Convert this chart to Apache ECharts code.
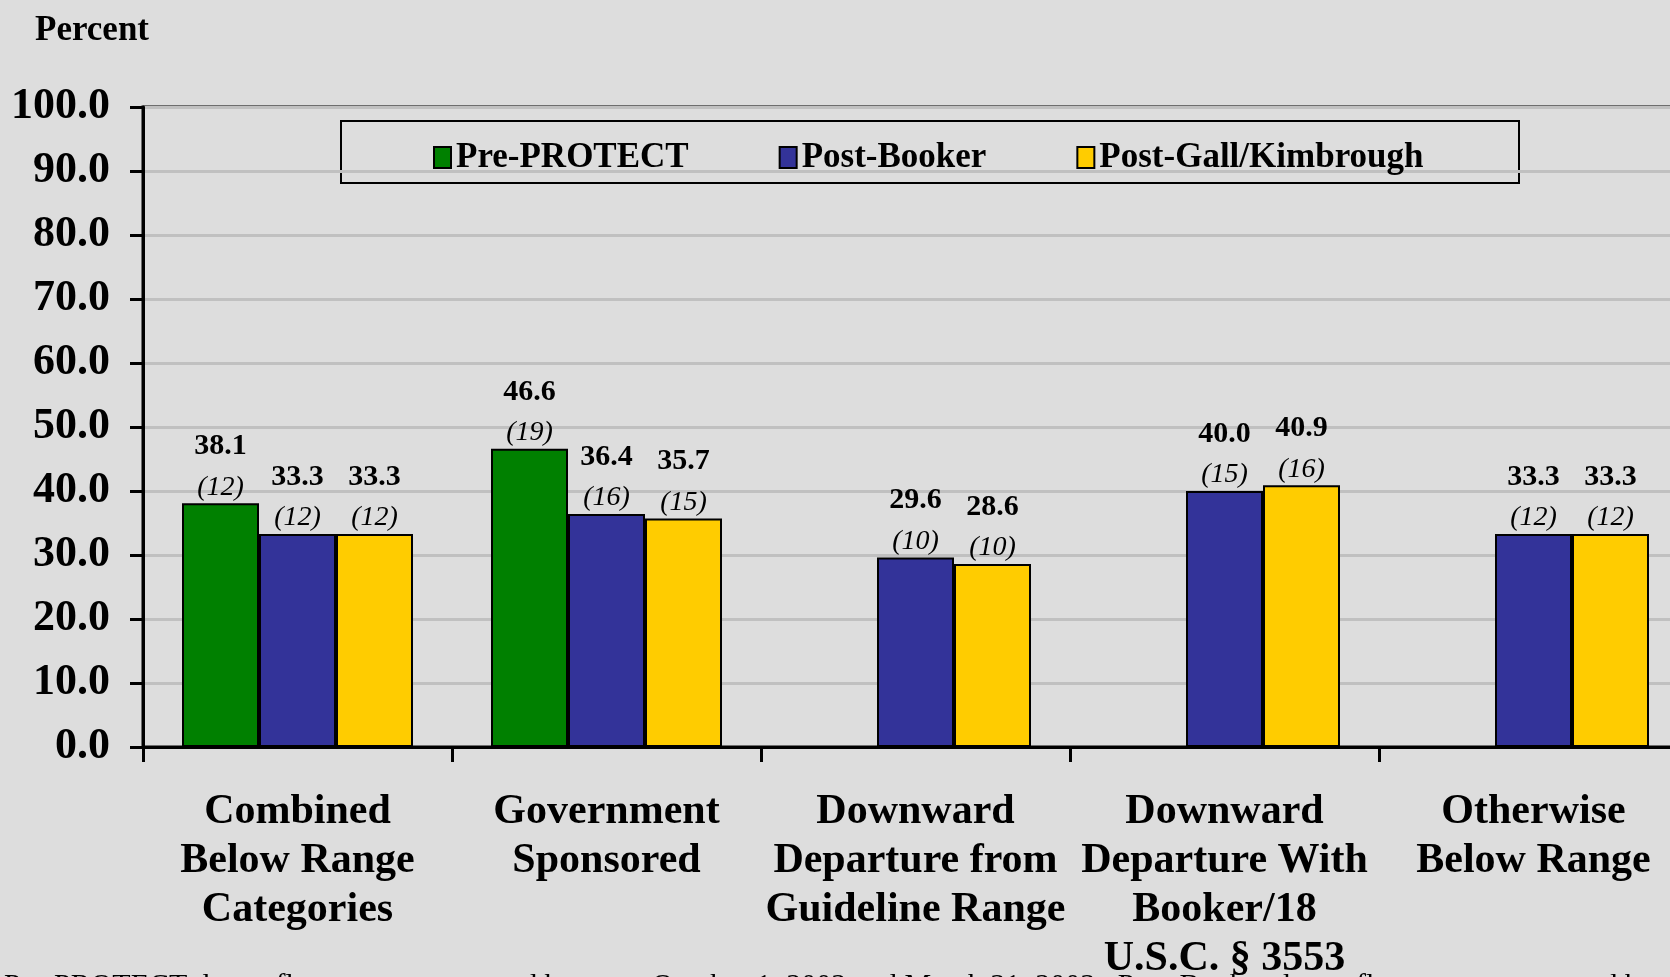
<!DOCTYPE html>
<html>
<head>
<meta charset="utf-8">
<title>Below Range Sentences</title>
<script src="https://cdn.jsdelivr.net/npm/echarts@6/dist/echarts.min.js"></script>
<style>
  html, body { margin: 0; padding: 0; background: #dddddd; }
  #belowRangeChart { width: 1670px; height: 977px; }
</style>
</head>
<body>
<div id="belowRangeChart"></div>
<script>
  var categories = [
    'Combined\nBelow Range\nCategories',
    'Government\nSponsored',
    'Downward\nDeparture from\nGuideline Range',
    'Downward\nDeparture With\nBooker/18\nU.S.C. § 3553',
    'Otherwise\nBelow Range'
  ];
  var seriesNames = ['Pre-PROTECT', 'Post-Booker', 'Post-Gall/Kimbrough'];

  // percent values, '-' where there is no bar
  var prePROTECT = [38.1, 46.6, '-', '-', '-'];
  var postBooker = [33.3, 36.4, 29.6, 40.0, 33.3];
  var postGall = [33.3, 35.7, 28.6, 40.9, 33.3];

  // number of cases shown in brackets under each value
  var prePROTECTCounts = [12, 19, null, null, null];
  var postBookerCounts = [12, 16, 10, 15, 12];
  var postGallCounts = [12, 15, 10, 16, 12];

  var footnote = 'Pre-PROTECT data reflects cases sentenced between October 1, 2002 and March 31, 2003.  Post-Booker data reflects cases sentenced between January 12, 2005 and December 10, 2007.  United States';

  var serif = '"Liberation Serif", "Times New Roman", serif';

  function makeSeries(name, values, counts, color) {
    return {
      name: name,
      type: 'bar',
      data: values,
      barWidth: 77,
      barGap: '0%',
      itemStyle: { color: color, borderColor: '#000', borderWidth: 2 },
      label: {
        show: true,
        position: 'top',
        distance: 2,
        formatter: function (p) {
          return '{v|' + Number(p.value).toFixed(1) + '}\n{c|(' + counts[p.dataIndex] + ')}';
        },
        rich: {
          v: { fontFamily: serif, fontWeight: 'bold', fontSize: 30, color: '#000', lineHeight: 54 },
          c: { fontFamily: serif, fontStyle: 'italic', fontSize: 28, color: '#000', lineHeight: 28 }
        }
      }
    };
  }

  var chart = echarts.init(document.getElementById('belowRangeChart'));

  var option = {
    backgroundColor: '#dddddd',
    animation: false,
    title: {
      text: 'Percent',
      left: 30,
      top: 8,
      textStyle: { fontFamily: serif, fontWeight: 'bold', fontSize: 35, color: '#000' }
    },
    legend: {
      data: seriesNames,
      left: 428,
      top: 135,
      icon: 'rect',
      itemWidth: 17,
      itemHeight: 21,
      itemGap: 90,
      textStyle: { fontFamily: serif, fontWeight: 'bold', fontSize: 35, color: '#000' }
    },
    grid: {
      left: 143,
      top: 107,
      width: 1545,
      bottom: 230,
      outerBoundsMode: 'none',
      show: true,
      borderColor: '#000',
      borderWidth: 3,
      backgroundColor: 'transparent'
    },
    xAxis: {
      type: 'category',
      data: categories,
      axisLine: { lineStyle: { color: '#000', width: 3 } },
      axisTick: { show: true, length: 15, lineStyle: { color: '#000', width: 3 } },
      axisLabel: {
        interval: 0,
        margin: 41,
        verticalAlign: 'top',
        fontFamily: serif,
        fontWeight: 'bold',
        fontSize: 42,
        lineHeight: 49,
        color: '#000'
      }
    },
    yAxis: {
      type: 'value',
      min: 0,
      max: 100,
      interval: 10,
      axisLine: { show: true, lineStyle: { color: '#000', width: 3 } },
      axisTick: { show: true, length: 13, lineStyle: { color: '#000', width: 3 } },
      splitLine: { lineStyle: { color: '#c0c0c0', width: 3 } },
      axisLabel: {
        margin: 33,
        fontFamily: serif,
        fontWeight: 'bold',
        fontSize: 44,
        color: '#000',
        formatter: function (v) { return v.toFixed(1); }
      }
    },
    graphic: [
      {
        type: 'rect',
        shape: { x: 341, y: 121, width: 1178, height: 62 },
        style: { fill: 'none', stroke: '#000', lineWidth: 2 }
      },
      {
        type: 'text',
        x: 4,
        y: 971,
        style: { text: footnote, fontFamily: serif, fontSize: 30, fill: '#000', textVerticalAlign: 'top' }
      }
    ],
    series: [
      makeSeries(seriesNames[0], prePROTECT, prePROTECTCounts, '#008000'),
      makeSeries(seriesNames[1], postBooker, postBookerCounts, '#333399'),
      makeSeries(seriesNames[2], postGall, postGallCounts, '#ffcc00')
    ]
  };

  chart.setOption(option);
</script>
</body>
</html>
